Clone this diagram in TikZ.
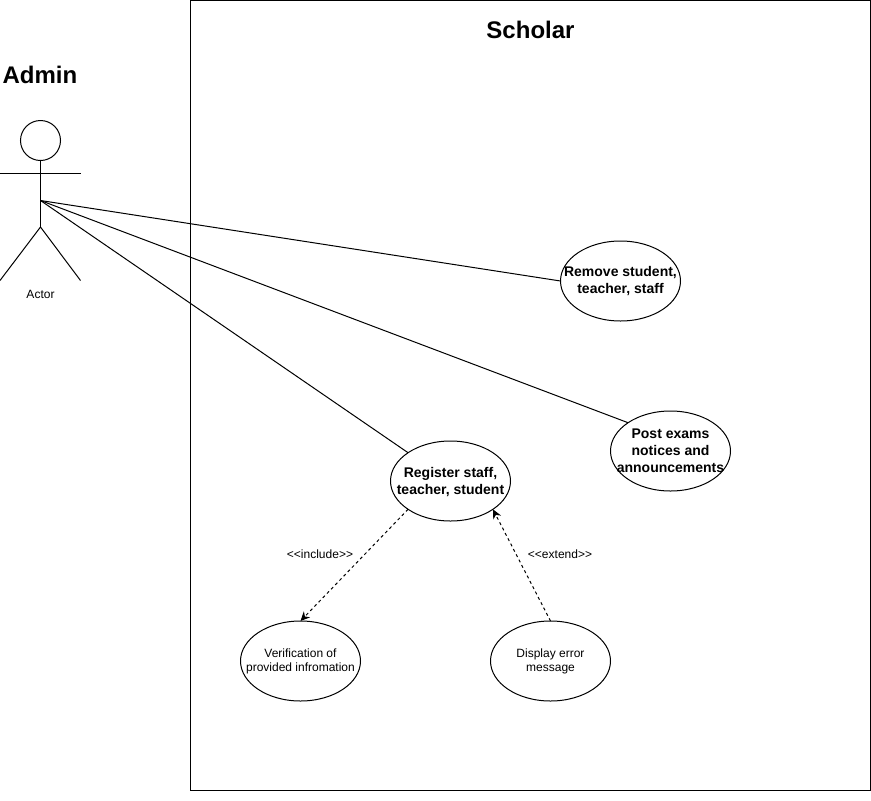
\documentclass[tikz,border=0pt]{standalone}
\usepackage{fontspec}
\setmainfont{Liberation Sans}
\usetikzlibrary{shapes.geometric,arrows.meta}
\tikzset{
  line/.style={draw=black,line width=0.75pt},
  usecase/.style={line,ellipse,fill=white,minimum width=90pt,minimum height=60pt,inner sep=0pt,outer sep=0pt},
  boldtxt/.style={align=center,font=\fontsize{10.5pt}{12.75pt}\selectfont\bfseries,inner sep=0pt},
  smalltxt/.style={align=center,font=\fontsize{9pt}{10.5pt}\selectfont,inner sep=0pt},
  titletxt/.style={font=\fontsize{18pt}{21pt}\selectfont\bfseries,inner sep=0pt},
  dep/.style={line,dash pattern=on 2.25pt off 2.25pt,-{Stealth[length=7pt,width=6.5pt]}}
}
\begin{document}
\begin{tikzpicture}[x=0.75pt,y=-0.75pt]
\useasboundingbox (0,0) rectangle (871,800);
\fill[white] (0,0) rectangle (871,800);
% system frame
\node[line,rectangle,minimum width=510pt,minimum height=592.5pt,inner sep=0pt,outer sep=0pt] (frame) at (530.5,395.5) {};
\node[titletxt] (scholar) at (530.5,29.5) {Scholar};
\node[titletxt] (admin) at (40,74.5) {Admin};
% actor
\node[line,circle,minimum size=30pt,inner sep=0pt,outer sep=0pt] (head) at (40.5,140.5) {};
\coordinate (hub) at (40.5,200.5);
\coordinate (hip) at (40.5,227);
\coordinate (armL) at (0,173.5);
\coordinate (armR) at (80.5,173.5);
\coordinate (footL) at (0,280.5);
\coordinate (footR) at (80.5,280.5);
\draw[line] (head.south) -- (hip);
\draw[line] (armL) -- (armR);
\draw[line] (footL) -- (hip) -- (footR);
\node[smalltxt] (actor) at (40.5,294) {Actor};
% use cases
\node[usecase,label={[boldtxt]center:Remove student,\\teacher, staff}] (remove) at (620.5,281) {};
\node[usecase,label={[boldtxt]center:Post exams\\notices and\\announcements}] (post) at (670.5,451) {};
\node[usecase,label={[boldtxt,yshift=-0.75pt]center:Register staff,\\teacher, student}] (register) at (450.5,481) {};
\node[usecase,label={[smalltxt]center:Verification of\\provided infromation}] (verify) at (300.5,661) {};
\node[usecase,label={[smalltxt]center:Display error\\message}] (display) at (550.5,661) {};
% associations
\draw[line] (hub) -- (remove.west);
\draw[line] (hub) -- (post.north west);
\draw[line] (hub) -- (register.north west);
% dependencies
\draw[dep] (register.south west) -- (verify.north);
\draw[dep] (display.north) -- (register.south east);
\node[smalltxt] (include) at (320,554.5) {{<}{<}include{>}{>}};
\node[smalltxt] (extend) at (560,554.5) {{<}{<}extend{>}{>}};
\end{tikzpicture}
\end{document}
